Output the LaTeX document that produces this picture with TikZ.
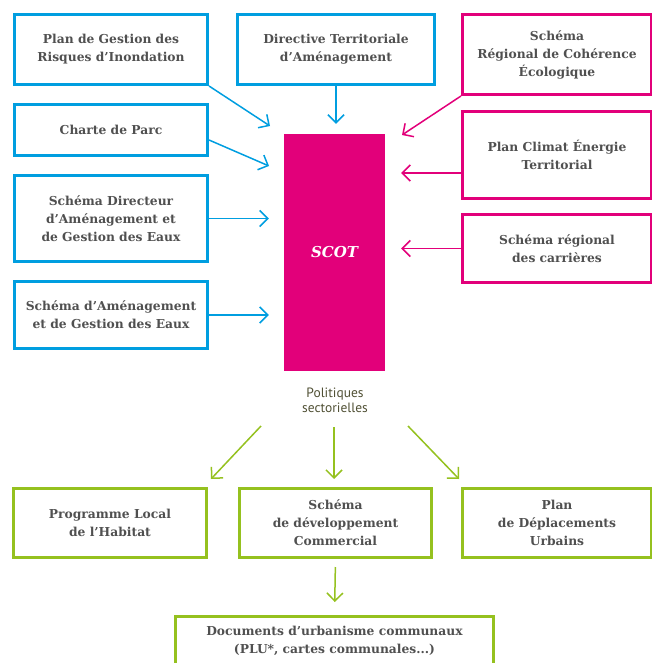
\documentclass[tikz,border=0pt]{standalone}
\usepackage{fontspec}
\setmainfont{DejaVu Serif}
\setsansfont{PT Sans}
\usetikzlibrary{arrows.meta, positioning, calc}
\definecolor{bleu}{RGB}{0,158,224}
\definecolor{rose}{RGB}{226,0,122}
\definecolor{vert}{RGB}{149,193,31}
\definecolor{texte}{RGB}{80,80,80}
\definecolor{olive}{RGB}{80,80,52}

\begin{document}
\begin{tikzpicture}[x=1pt, y=-1pt,
  box/.style={draw, line width=3pt, fill=white, align=center, text=texte,
    font=\bfseries\fontsize{12.3}{18}\selectfont, inner sep=0pt},
  bbox/.style={box, draw=bleu, minimum width=193pt},
  rbox/.style={box, draw=rose, minimum width=189pt},
  gbox/.style={box, draw=vert},
  fl/.style={-{Straight Barb[length=8pt, width=16pt]}, line width=1.5pt}]
  \clip (0,0) rectangle (652,663);
  % documents de rang superieur
  \node[bbox, minimum height=70pt] (pgri) at (111,49.5) {Plan de Gestion des\\Risques d’Inondation};
  \node[bbox, minimum width=197pt, minimum height=70pt] (dta) at (336,49.5) {Directive Territoriale\\d’Aménagement};
  \node[bbox, minimum height=51pt] (parc) at (111,130) {Charte de Parc};
  \node[bbox, minimum height=86pt] (sdage) at (111,218.5) {Schéma Directeur\\d’Aménagement et\\de Gestion des Eaux};
  \node[bbox, minimum height=67pt] (sage) at (111,315) {Schéma d’Aménagement\\et de Gestion des Eaux};
  \node[rbox, minimum height=80pt] (srce) at (557,54.5) {Schéma\\Régional de Cohérence\\Écologique};
  \node[rbox, minimum height=87pt] (pcet) at (557,155) {Plan Climat Énergie\\Territorial};
  \node[rbox, minimum height=68pt] (src) at (557,248.5) {Schéma régional\\des carrières};
  % SCOT
  \node[fill=rose, minimum width=101pt, minimum height=237pt, text=white,
    font=\bfseries\itshape\fontsize{15}{17}\selectfont] (scot) at (334.5,252.5) {SCOT};
  \node[font=\sffamily\fontsize{13.5}{15}\selectfont, text=olive, align=center] (pol) at (335,400) {Politiques\\sectorielles};
  % documents sectoriels
  \node[gbox, minimum width=193pt, minimum height=69pt] (plh) at (110,523) {Programme Local\\de l’Habitat};
  \node[gbox, minimum width=192pt, minimum height=69pt] (sdc) at (335.5,523) {Schéma\\de développement\\Commercial};
  \node[gbox, minimum width=189pt, minimum height=69pt] (pdu) at (557,523) {Plan\\de Déplacements\\Urbains};
  \node[gbox, minimum width=318pt, minimum height=48pt] (plu) at (334.5,640.5) {Documents d’urbanisme communaux\\(PLU*, cartes communales...)};
  % extremites libres
  \coordinate (t1) at (270,126);
  \coordinate (t3) at (269,166);
  \coordinate (t6) at (402,135);
  \coordinate (s7) at (261,426);
  \coordinate (t7) at (211,479);
  \coordinate (s8) at (334,427);
  \coordinate (t8) at (334,479);
  \coordinate (s9) at (408,426);
  \coordinate (t9) at (459,479);
  % fleches
  \draw[fl, bleu] (pgri.south east) -- (t1);
  \draw[fl, bleu, shorten >=10pt] (dta.south) -- (dta.south |- scot.north);
  \draw[fl, bleu] ([yshift=-10pt]parc.east) -- (t3);
  \foreach \n in {sdage,sage}
    \draw[fl, bleu, shorten >=15pt] (\n.east) -- (\n.east -| scot.west);
  \draw[fl, rose] (srce.south west) -- (t6);
  \draw[fl, rose, shorten >=16pt] ([yshift=-18pt]pcet.west) -- ([yshift=-18pt]pcet.west -| scot.east);
  \draw[fl, rose, shorten >=16pt] (src.west) -- (src.west -| scot.east);
  \foreach \a/\b in {s7/t7,s8/t8,s9/t9} \draw[fl, vert] (\a) -- (\b);
  \draw[fl, vert, shorten <=8pt, shorten >=13pt] (sdc.south) -- (plu.north);
\end{tikzpicture}
\end{document}
